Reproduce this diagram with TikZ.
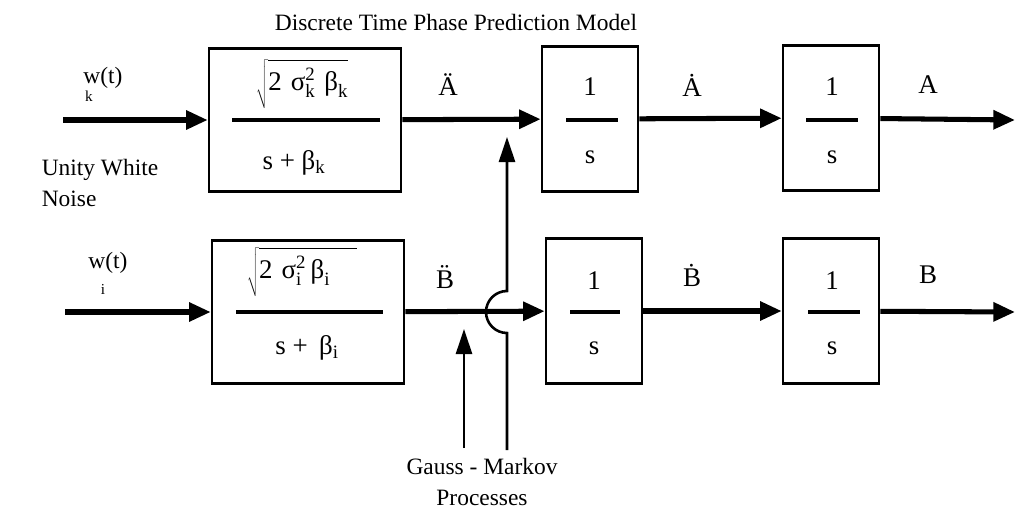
\documentclass[tikz,border=0pt]{standalone}
\usepackage{fontspec}
\setmainfont{Liberation Serif}
\usetikzlibrary{arrows.meta}

\begin{document}
\begin{tikzpicture}[x=0.3mm,y=-0.3mm,font=\fontsize{20}{24}\selectfont,
  gain/.style={draw,line width=2.2pt,minimum width=57.6mm,minimum height=42.9mm,inner sep=0pt},
  integ/.style={draw,line width=2.2pt,minimum width=28.8mm,minimum height=43.5mm,inner sep=0pt},
  wire/.style={line width=4.3pt,-{Triangle[length=6.5mm,width=5.5mm]}},
  feed/.style={line width=2.2pt,-{Triangle[length=7.5mm,width=4.8mm]}},
  bar/.style={line width=4pt},
  term/.style={font=\fontsize{23}{26}\selectfont},
  sig/.style={font=\fontsize{23}{26}\selectfont},
  sub/.style={font=\fontsize{13}{14}\selectfont}]
\useasboundingbox (0,0) rectangle (1017,515);
\node (title) at (456,22) {Discrete Time Phase Prediction Model};
% blocks
\node[gain] (Gk) at (305,120) {};
\node[integ] (Ik1) at (590,119) {};
\node[integ] (Ik2) at (831,118) {};
\node[gain] (Gi) at (308,312) {};
\node[integ] (Ii1) at (594,311) {};
\node[integ] (Ii2) at (831,311) {};
% block contents
\node[term,inner sep=0pt] (numk) at (302,84) {\(\sqrt{\rule[-5mm]{0pt}{13.5mm}\mbox{2\,\,σ}_{\mathrm{k}}^{\mathrm{2}}\mbox{\,\,β}_{\mathrm{k}}}\)};
\draw[bar] (232,120) -- (380,120);
\node[term] (denk) at (294,163) {s + β\(_{\mathrm{k}}\)};
\node[term,inner sep=0pt] (numi) at (302,272) {\(\sqrt{\rule[-5mm]{0pt}{13.5mm}\mbox{2\,\,σ}_{\mathrm{i}}^{\mathrm{2}}\mbox{\,β}_{\mathrm{i}}\quad}\)};
\draw[bar] (236,312) -- (383,312);
\node[term] (deni) at (307,348) {s + \,β\(_{\mathrm{i}}\)};
\node[term] (nk1) at (590,87) {1};
\draw[bar] (566,120) -- (618,120);
\node[term] (dk1) at (590,157) {s};
\node[term] (nk2) at (832,87) {1};
\draw[bar] (806,120) -- (858,120);
\node[term] (dk2) at (832,157) {s};
\node[term] (ni1) at (594,281) {1};
\draw[bar] (570,312) -- (620,312);
\node[term] (di1) at (594,348) {s};
\node[term] (ni2) at (832,281) {1};
\draw[bar] (808,312) -- (860,312);
\node[term] (di2) at (832,348) {s};
% inputs and outputs
\coordinate (Wk) at (63,120);
\coordinate (Wi) at (65,312);
\coordinate (Aout) at (1015,120);
\coordinate (Bout) at (1015,312);
\draw[wire] (Wk) -- (Gk);
\draw[wire] (Gk) -- (Ik1);
\draw[wire] (Ik1) -- (Ik2);
\draw[wire] (Ik2) -- (Aout);
\draw[wire] (Wi) -- (Gi);
\draw[wire] (Gi) -- (Ii1);
\draw[wire] (Ii1) -- (Ii2);
\draw[wire] (Ii2) -- (Bout);
\node (wk) at (103,78) {w(t)};
\node[sub] (wksub) at (89,96) {k};
\node (wi) at (108,263) {w(t)};
\node[sub] (wisub) at (103,289) {i};
\node[align=left] (noise) at (100,183) {Unity White\\[2pt]Noise};
% signals
\node[sig] (Add) at (448,85) {\"A};
\node[sig] (Ad) at (692,85) {\.A};
\node[sig] (A) at (928,85) {A};
\node[sig] (Bdd) at (445,277) {\"B};
\node[sig] (Bd) at (692,275) {\.B};
\node[sig] (B) at (928,275) {B};
% gauss-markov feeds
\coordinate (footA) at (507,450);
\coordinate (tipA) at (507,137);
\coordinate (footB) at (464,448);
\coordinate (tipB) at (464,329);
\draw[feed] (footA) -- (507,333) arc[start angle=-90,end angle=-270,radius=6.3mm] -- (tipA);
\draw[feed] (footB) -- (tipB);
\node[align=center] (gm) at (482,482) {Gauss - Markov\\[2pt]Processes};
\end{tikzpicture}
\end{document}
